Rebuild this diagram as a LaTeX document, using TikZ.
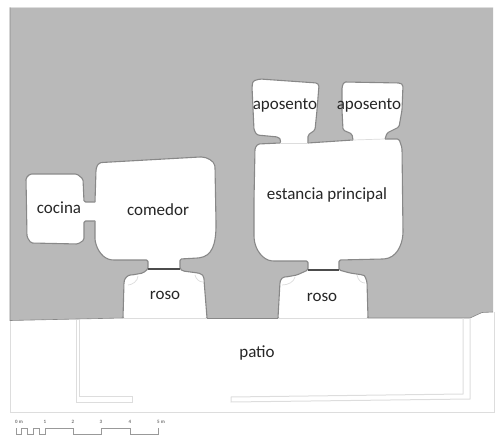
\documentclass[tikz,border=0pt]{standalone}
\usepackage{fontspec}
\setmainfont{Carlito}
\definecolor{massgray}{HTML}{B9B9B9}
\definecolor{wallgray}{HTML}{888888}
\definecolor{lightline}{HTML}{DDDDDD}
\tikzset{
	wall/.style={wallgray, line width=1.1pt, line join=round, rounded corners=1.5pt},
	room/.style={fill=white, draw=none, rounded corners=1.5pt},
	thinwall/.style={lightline, line width=1pt},
	doorline/.style={black!70, line width=1.2pt},
	roomlabel/.style={font=\fontsize{17}{19}\selectfont, text=black!85, inner sep=0pt},
	scalelabel/.style={font=\fontsize{5}{6}\selectfont\bfseries, text=black!55, inner sep=0pt}
}
\begin{document}
\begin{tikzpicture}[x=1pt, y=-1pt]
	\useasboundingbox (0,0) rectangle (495,438);
	% patio and outer frame
	\draw[thinwall] (10,320) -- (10,412.5) -- (494,412.5) -- (494,312);
	% solid mass
	\fill[massgray] (10,7.5) -- (493,7.5) -- (493,312) -- (482,312.5) -- (470,318) -- (123,318) -- (10,320.5) -- cycle;
	\draw[lightline, line width=0.8pt] (10,7) -- (493,7);
	\draw[wallgray, line width=0.6pt] (10,7.5) -- (10,320.5) -- (123,318);
	\draw[wallgray, line width=0.6pt] (207,318) -- (278,318);
	\draw[wallgray, line width=0.6pt] (368,318) -- (470,318) -- (482,312.5) -- (493,312);
	% cocina and comedor
	\path[room] (26,178) -- (30,174) -- (77,174) -- (83,179) -- (84,202) -- (95,202) -- (96,170) .. controls (97,165) and (99,163) .. (102,162.5) -- (200,157) .. controls (207,157) and (214,161) .. (215,167) -- (216,223) .. controls (216,245) and (212,256) .. (198,258) -- (180,259) -- (180,269) -- (183,271) -- (198,273) .. controls (202,274) and (204,276) .. (204,280) -- (207,318) -- (123,318) -- (124,282) .. controls (125,278) and (128,275) .. (132,275) -- (143,273) -- (148,269) -- (148,260) -- (113,260) .. controls (103,259) and (97,250) .. (95,240) -- (95,221) -- (84,221) -- (84,240) -- (78,244) -- (31,243) -- (27,237) -- cycle;
	\draw[wall] (95,202) -- (84,202) -- (83,179) -- (77,174) -- (30,174) -- (26,178) -- (27,237) -- (31,243) -- (78,244) -- (84,240) -- (84,221) -- (95,221);
	\draw[wall] (95,202) -- (96,170) .. controls (97,165) and (99,163) .. (102,162.5) -- (200,157) .. controls (207,157) and (214,161) .. (215,167) -- (216,223) .. controls (216,245) and (212,256) .. (198,258) -- (180,259) -- (180,269) -- (183,271) -- (198,273) .. controls (202,274) and (204,276) .. (204,280) -- (207,318);
	\draw[wall] (95,221) -- (95,240) .. controls (97,250) and (103,259) .. (113,260) -- (148,260) -- (148,269) -- (143,273) -- (132,275) .. controls (128,275) and (125,278) .. (124,282) -- (123,318);
	\draw[doorline] (148,269) -- (180,269);
	\draw[thinwall, line width=0.7pt] (128,285) .. controls (132,285) and (138,281) .. (138,276);
	\draw[thinwall, line width=0.7pt] (195,275) .. controls (196,279) and (199,282) .. (203,282);
	% aposentos and estancia principal
	\path[room] (254,200) -- (255,148) -- (258,144) -- (280,143) -- (281,140) -- (278,137) -- (257,135) -- (254,130) -- (252,87) -- (253,81) -- (260,79) -- (317,83) -- (319,85) -- (317,110) -- (315,130) -- (308,135) -- (308,143) -- (353,140) -- (352,134) -- (343,130) -- (342,110) -- (342,87) -- (344,82) -- (400,83) -- (403,85) -- (402,110) -- (399,127) -- (387,133) -- (385,139) -- (399,139) -- (402,148) -- (403,233) .. controls (402,246) and (396,258) .. (383,259) -- (339,260) -- (339,270) -- (350,273) -- (363,275) .. controls (365,276) and (366,279) .. (367,282) -- (368,318) -- (278,318) -- (280,282) .. controls (281,279) and (283,277) .. (286,277) -- (297,275) -- (308,270) -- (308,261) -- (273,261) .. controls (263,260) and (255,250) .. (254,237) -- cycle;
	\draw[wall] (280,143) -- (281,140) -- (278,137) -- (257,135) -- (254,130) -- (252,87) -- (253,81) -- (260,79) -- (317,83) -- (319,85) -- (317,110) -- (315,130) -- (308,135) -- (308,143);
	\draw[wall] (353,140) -- (352,134) -- (343,130) -- (342,110) -- (342,87) -- (344,82) -- (400,83) -- (403,85) -- (402,110) -- (399,127) -- (387,133) -- (385,139);
	\draw[wall] (280,143) -- (258,144) -- (255,148) -- (254,200) -- (254,237) .. controls (255,250) and (263,260) .. (273,261) -- (308,261) -- (308,270) -- (297,275) -- (286,277) .. controls (283,277) and (281,279) .. (280,282) -- (278,318);
	\draw[wall] (308,143) -- (353,140);
	\draw[wall] (385,139) -- (399,139) -- (402,148) -- (403,233) .. controls (402,246) and (396,258) .. (383,259) -- (339,260) -- (339,270) -- (350,273) -- (363,275) .. controls (365,276) and (366,279) .. (367,282) -- (368,318);
	\draw[doorline] (308,270) -- (339,270);
	\draw[thinwall, line width=0.7pt] (280,143) -- (308,143);
	\draw[thinwall, line width=0.7pt] (353,140) -- (385,139);
	\draw[thinwall, line width=0.7pt] (282,285) .. controls (288,285) and (294,282) .. (295,277);
	\draw[thinwall, line width=0.7pt] (357,275) .. controls (358,280) and (361,283) .. (365,283);
	\draw[thinwall] (123,318) -- (207,318);
	\draw[thinwall] (278,318) -- (368,318);
	% patio walls
	\draw[thinwall] (76,320) -- (76,402) -- (132,402) -- (132,396) -- (79,396) -- (79,320);
	\draw[thinwall] (463,318) -- (463,394) -- (231,397) -- (231,402) -- (470,399) -- (470,318);
	% labels
	\node[roomlabel] (cocina) at (59,208) {cocina};
	\node[roomlabel] (comedor) at (158,210) {comedor};
	\node[roomlabel] (roso1) at (165,295) {roso};
	\node[roomlabel] (aposento1) at (285,105) {aposento};
	\node[roomlabel] (aposento2) at (369,105) {aposento};
	\node[roomlabel] (estancia) at (327,195) {estancia principal};
	\node[roomlabel] (roso2) at (322,297) {roso};
	\node[roomlabel] (patio) at (257,353) {patio};
	% scale
	\node[scalelabel] (m0) at (19,422) {0 m};
	\node[scalelabel] (m1) at (45,422) {1};
	\node[scalelabel] (m2) at (73,422) {2};
	\node[scalelabel] (m3) at (101,422) {3};
	\node[scalelabel] (m4) at (130,422) {4};
	\node[scalelabel] (m5) at (161,422) {5 m};
	\draw[black!40, line width=0.9pt] (16,428) -- (16,434) -- (21,434) -- (21,428) -- (27,428) -- (27,434) -- (33,434) -- (33,428) -- (39,428) -- (39,434) -- (45,434) -- (45,428) -- (73,428) -- (73,434) -- (101,434) -- (101,428) -- (130,428) -- (130,434) -- (158,434) -- (158,428);
\end{tikzpicture}
\end{document}
